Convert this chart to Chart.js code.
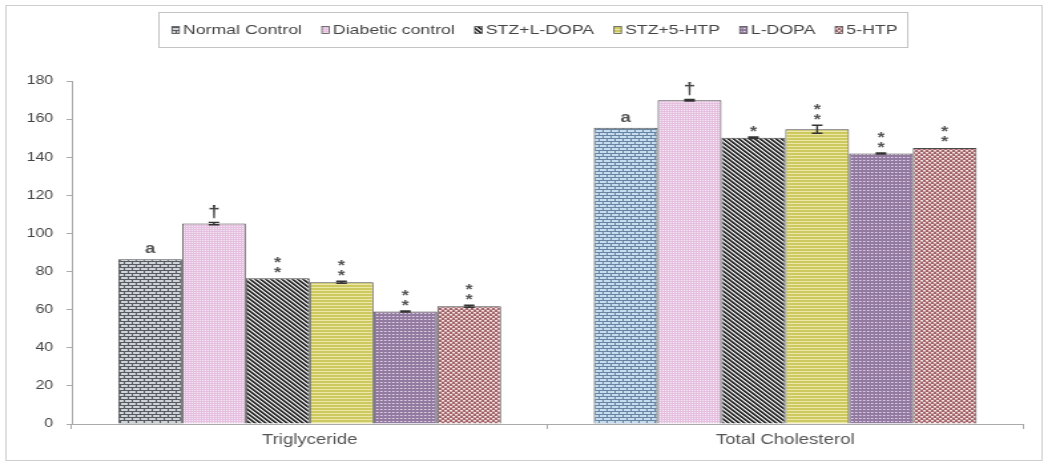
<!DOCTYPE html>
<html>
<head>
<meta charset="utf-8">
<script src="https://cdn.jsdelivr.net/npm/chart.js@4.4.1/dist/chart.umd.min.js"></script>
<style>
  html, body { margin: 0; padding: 0; background: #fff; overflow: hidden; }
  /* the figure is laid out narrow and widened horizontally, as in the printed plate */
  #wrap { width: 788px; height: 466px; transform: scaleX(1.33); transform-origin: 0 0; }
</style>
</head>
<body>
<div id="wrap"><canvas id="c" width="788" height="466"></canvas></div>
<script>
// ---- data (mg/dl) ----
const categories = ['Triglyceride', 'Total Cholesterol'];
const seriesNames = ['Normal Control', 'Diabetic control', 'STZ+L-DOPA', 'STZ+5-HTP', 'L-DOPA', '5-HTP'];

const normalControl   = [86.5, 155.5];
const diabeticControl = [105.2, 169.9];
const stzLdopa        = [76.5, 150.2];
const stz5htp         = [74.4, 154.7];
const ldopa           = [59.0, 141.9];
const htp5            = [61.8, 144.9];

// standard errors
const normalErr   = [0, 0];
const diabeticErr = [0.6, 0.4];
const stzLdopaErr = [0, 0.4];
const stz5htpErr  = [0.5, 2.1];
const ldopaErr    = [0.3, 0.3];
const htp5Err     = [0.5, 0];

// significance marks above each bar
const normalMarks   = ['a', 'a'];
const diabeticMarks = ['\u2020', '\u2020'];
const stzLdopaMarks = ['**', '*'];
const stz5htpMarks  = ['**', '**'];
const ldopaMarks    = ['**', '**'];
const htp5Marks     = ['**', '**'];

const yTicks = [0, 20, 40, 60, 80, 100, 120, 140, 160, 180];

const FONT = "'Liberation Sans', Arial, sans-serif";

// ---- fill patterns ----
function pattern(w, h, paint) {
  const c = document.createElement('canvas');
  c.width = w; c.height = h;
  const g = c.getContext('2d');
  paint(g);
  return g.createPattern(c, 'repeat');
}
function brick(mortar, face) {
  return pattern(6, 6, g => {
    g.fillStyle = mortar; g.fillRect(0, 0, 6, 6);
    g.fillStyle = face;
    g.fillRect(1, 1, 5, 2);
    g.fillRect(4, 4, 2, 2); g.fillRect(0, 4, 3, 2);
  });
}
const fillNormalGray = brick('#555a60', '#cfd3d8');
const fillNormalBlue = brick('#6883a2', '#c6dcef');
const fillDiabetic = pattern(2, 2, g => {
  g.fillStyle = '#e4bfdf'; g.fillRect(0, 0, 2, 2);
  g.fillStyle = '#f8ecf6'; g.fillRect(0, 0, 1, 1);
});
const fillStzLdopa = pattern(4, 4, g => {
  g.fillStyle = '#eeeeee'; g.fillRect(0, 0, 4, 4);
  for (let y = 0; y < 4; y++) {
    g.fillStyle = '#2e2e2e';
    g.fillRect(y % 4, y, 1, 1); g.fillRect((y + 1) % 4, y, 1, 1);
    g.fillStyle = '#a0a0a0';
    g.fillRect((y + 2) % 4, y, 1, 1);
  }
});
const fillStz5htp = pattern(2, 3, g => {
  g.fillStyle = '#cec95e'; g.fillRect(0, 0, 2, 3);
  g.fillStyle = '#ebe7a8'; g.fillRect(0, 2, 2, 1);
});
const fillLdopa = pattern(3, 3, g => {
  g.fillStyle = '#937aa0'; g.fillRect(0, 0, 3, 3);
  g.fillStyle = '#e8def0'; g.fillRect(1, 1, 1, 1);
  g.fillStyle = '#bba8c4'; g.fillRect(2, 1, 1, 1);
});
const fill5htp = pattern(4, 4, g => {
  g.fillStyle = '#a0646a'; g.fillRect(0, 0, 4, 4);
  g.fillStyle = '#f4e4e4'; g.fillRect(0, 0, 2, 1); g.fillRect(2, 2, 2, 1);
  g.fillStyle = '#d2a8ab'; g.fillRect(0, 1, 2, 1); g.fillRect(2, 3, 2, 1);
});

const seriesValues = [normalControl, diabeticControl, stzLdopa, stz5htp, ldopa, htp5];
const seriesErrors = [normalErr, diabeticErr, stzLdopaErr, stz5htpErr, ldopaErr, htp5Err];
const seriesMarks  = [normalMarks, diabeticMarks, stzLdopaMarks, stz5htpMarks, ldopaMarks, htp5Marks];
const seriesFills  = [[fillNormalGray, fillNormalBlue], fillDiabetic, fillStzLdopa, fillStz5htp, fillLdopa, fill5htp];
const legendFills  = [fillNormalGray, fillDiabetic, fillStzLdopa, fillStz5htp, fillLdopa, fill5htp];

// ---- error bars, marks, legend and frame ----
const overlay = {
  id: 'overlay',
  afterDatasetsDraw(chart) {
    const ctx = chart.ctx;
    const y = chart.scales.y;
    ctx.save();
    chart.data.datasets.forEach((ds, i) => {
      const meta = chart.getDatasetMeta(i);
      meta.data.forEach((bar, j) => {
        const v = ds.data[j];
        const e = seriesErrors[i][j];
        let top = y.getPixelForValue(v);
        if (e > 0) {
          const hi = y.getPixelForValue(v + e), lo = y.getPixelForValue(v - e);
          ctx.strokeStyle = '#333'; ctx.lineWidth = 1.4;
          ctx.beginPath();
          ctx.moveTo(bar.x, hi); ctx.lineTo(bar.x, lo);
          ctx.moveTo(bar.x - 4, hi); ctx.lineTo(bar.x + 4, hi);
          ctx.moveTo(bar.x - 4, lo); ctx.lineTo(bar.x + 4, lo);
          ctx.stroke();
          top = hi;
        }
        const m = seriesMarks[i][j];
        ctx.textAlign = 'center';
        ctx.textBaseline = 'alphabetic';
        if (m === 'a') {
          ctx.fillStyle = '#555'; ctx.font = 'bold 14px ' + FONT;
          ctx.fillText('a', bar.x, top - 6);
        } else if (m === '\u2020') {
          ctx.fillStyle = '#444'; ctx.font = 'bold 16px ' + FONT;
          ctx.fillText('\u2020', bar.x, top - 5);
        } else {
          ctx.fillStyle = '#555'; ctx.font = 'bold 14px ' + FONT;
          for (let k = 0; k < m.length; k++) {
            const cy = top - 10 - k * 10;
            ctx.fillText('*', bar.x, cy + 8.5);
          }
        }
      });
    });
    ctx.restore();
  },
  afterDraw(chart) {
    const ctx = chart.ctx;
    ctx.save();
    // outer frame
    ctx.strokeStyle = '#cfcfcf'; ctx.lineWidth = 1;
    ctx.strokeRect(4.5, 5.5, 779, 455);
    // legend box
    ctx.strokeStyle = '#c4c4c4';
    ctx.strokeRect(119.5, 12.5, 563, 35);
    ctx.font = '13.3px ' + FONT;
    ctx.textBaseline = 'middle'; ctx.textAlign = 'left';
    let x = 129.3;
    const cy = 30;
    chart.data.datasets.forEach((ds, i) => {
      ctx.fillStyle = legendFills[i];
      ctx.fillRect(x, cy - 3.5, 5.5, 7);
      ctx.strokeStyle = '#555'; ctx.lineWidth = 0.8;
      ctx.strokeRect(x, cy - 3.5, 5.5, 7);
      ctx.fillStyle = '#444';
      ctx.fillText(ds.label, x + 8.3, cy + 0.5);
      x += 8.3 + ctx.measureText(ds.label).width + 15;
    });
    ctx.restore();
  }
};

new Chart(document.getElementById('c'), {
  type: 'bar',
  data: {
    labels: categories,
    datasets: seriesNames.map((name, i) => ({
      label: name,
      data: seriesValues[i],
      backgroundColor: seriesFills[i],
      borderColor: '#4a4a4a',
      borderWidth: 1,
      borderSkipped: 'start',
      categoryPercentage: 0.805,
      barPercentage: 1
    }))
  },
  options: {
    responsive: false,
    animation: false,
    devicePixelRatio: 1,
    layout: { padding: { left: 0, right: 18.8, top: 81, bottom: 12 } },
    plugins: { legend: { display: false }, tooltip: { enabled: false } },
    scales: {
      x: {
        grid: { offset: true, drawOnChartArea: false, drawTicks: true, tickLength: 5, color: '#aaa' },
        border: { color: '#aaa' },
        ticks: { font: { family: FONT, size: 14 }, color: '#555', padding: 3 },
        afterFit(s) { s.height = 30; }
      },
      y: {
        min: 0, max: 180,
        afterBuildTicks(s) { s.ticks = yTicks.map(v => ({ value: v })); },
        grid: { drawOnChartArea: false, drawTicks: true, tickLength: 4, color: '#aaa' },
        border: { color: '#aaa' },
        ticks: { font: { family: FONT, size: 12 }, color: '#444', padding: 10 },
        afterFit(s) { s.width = 54; }
      }
    }
  },
  plugins: [overlay]
});
</script>
</body>
</html>
